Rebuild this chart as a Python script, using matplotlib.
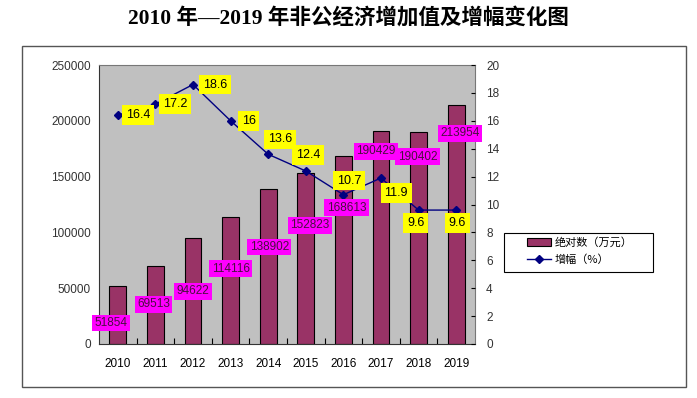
import matplotlib
matplotlib.use("Agg")
import matplotlib.pyplot as plt
from matplotlib.patches import Rectangle

years = ["2010", "2011", "2012", "2013", "2014", "2015", "2016", "2017", "2018", "2019"]
absolute = [51854, 69513, 94622, 114116, 138902, 152823, 168613, 190429, 190402, 213954]
growth = [16.4, 17.2, 18.6, 16, 13.6, 12.4, 10.7, 11.9, 9.6, 9.6]
left_ticks = [0, 50000, 100000, 150000, 200000, 250000]
right_ticks = [0, 2, 4, 6, 8, 10, 12, 14, 16, 18, 20]

# label offsets in pixels (dx, dy) relative to bar top / line point
abs_offsets = [(-7, -37), (-2, -38), (0, -53), (0, -52), (1, -58),
               (4, -52), (3, -52), (-5, -20), (-1, -25), (4, -28)]
growth_offsets = [(20, 0), (20, 0), (22, 0), (18, 0), (12, 15),
                  (2, 16), (6, 14), (15, -15), (-3, -13), (1, -13)]

plt.rcParams["font.family"] = ["Liberation Sans", "Noto Sans CJK SC", "DejaVu Sans"]

fig = plt.figure(figsize=(6.97, 3.98), dpi=100)

# outer chart frame
fig.patches.append(Rectangle((22 / 697, 1 - 387 / 398), 664 / 697, 341 / 398,
                             transform=fig.transFigure, fill=False,
                             edgecolor="#555555", linewidth=1.0))

fig.text(0.5, 1 - 18 / 398, "2010 年—2019 年非公经济增加值及增幅变化图",
         ha="center", va="center", fontsize=15.5, fontweight="bold",
         family=["Liberation Serif", "Noto Sans CJK SC"])

ax = fig.add_axes([99 / 697, 1 - 344 / 398, 376 / 697, 279 / 398])
ax.set_facecolor("#c0c0c0")
x = list(range(len(years)))
bars = ax.bar(x, absolute, width=0.45, color="#993366", edgecolor="black",
              linewidth=0.8, zorder=2)
ax.set_xlim(-0.5, len(years) - 0.5)
ax.set_ylim(0, 250000)
ax.set_yticks(left_ticks)
ax.set_yticklabels([str(t) for t in left_ticks])
ax.set_xticks(x)
ax.set_xticklabels(years)
ax.set_xticks([i + 0.5 for i in x[:-1]], minor=True)
ax.tick_params(axis="x", which="major", length=0, pad=10, labelsize=8.5)
ax.tick_params(axis="x", which="minor", direction="in", length=4, width=0.8)
ax.tick_params(axis="y", length=0, pad=6, labelsize=8.5, labelcolor="#333333")
for s in ax.spines.values():
    s.set_color("#777777")
    s.set_linewidth(0.8)
ax.spines["left"].set_color("#333333")
ax.spines["bottom"].set_color("#333333")

ax2 = ax.twinx()
line, = ax2.plot(x, growth, color="#000080", linewidth=1.0, marker="D",
                 markersize=4, zorder=3)
ax2.set_ylim(0, 20)
ax2.set_yticks(right_ticks)
ax2.tick_params(axis="y", direction="in", length=3, width=0.8, pad=8,
                labelsize=8.5, labelcolor="#333333")
for s in ax2.spines.values():
    s.set_visible(False)

for i, v in enumerate(absolute):
    dx, dy = abs_offsets[i]
    ax2.annotate(str(v), xy=(i, v), xycoords=ax.transData,
                 xytext=(dx, dy), textcoords="offset pixels",
                 ha="center", va="center", fontsize=8.5, color="#4a1040",
                 bbox=dict(boxstyle="square,pad=0.2", facecolor="#ff00ff",
                           edgecolor="none"), zorder=5)

for i, g in enumerate(growth):
    dx, dy = growth_offsets[i]
    ax2.annotate(f"{g:g}", xy=(i, g), xytext=(dx, dy),
                 textcoords="offset pixels", ha="center", va="center",
                 fontsize=9, color="black",
                 bbox=dict(boxstyle="square,pad=0.3", facecolor="#ffff00",
                           edgecolor="none"), zorder=5)

# legend: own frame so the padding can match the wide Excel box
fig.patches.append(Rectangle((504 / 697, 1 - 272 / 398), 149 / 697, 39 / 398,
                             transform=fig.transFigure, facecolor="white",
                             edgecolor="black", linewidth=0.8))
leg = fig.legend([bars, line], ["绝对数（万元）", "增幅（%）"],
                 loc="upper left", bbox_to_anchor=(527 / 697, 1 - 237 / 398),
                 frameon=False, borderpad=0, handlelength=2.2,
                 handletextpad=0.3, labelspacing=0.6, borderaxespad=0,
                 prop={"family": ["Noto Sans CJK SC", "DejaVu Sans"], "size": 8})

fig.savefig("out.png", dpi=100)
